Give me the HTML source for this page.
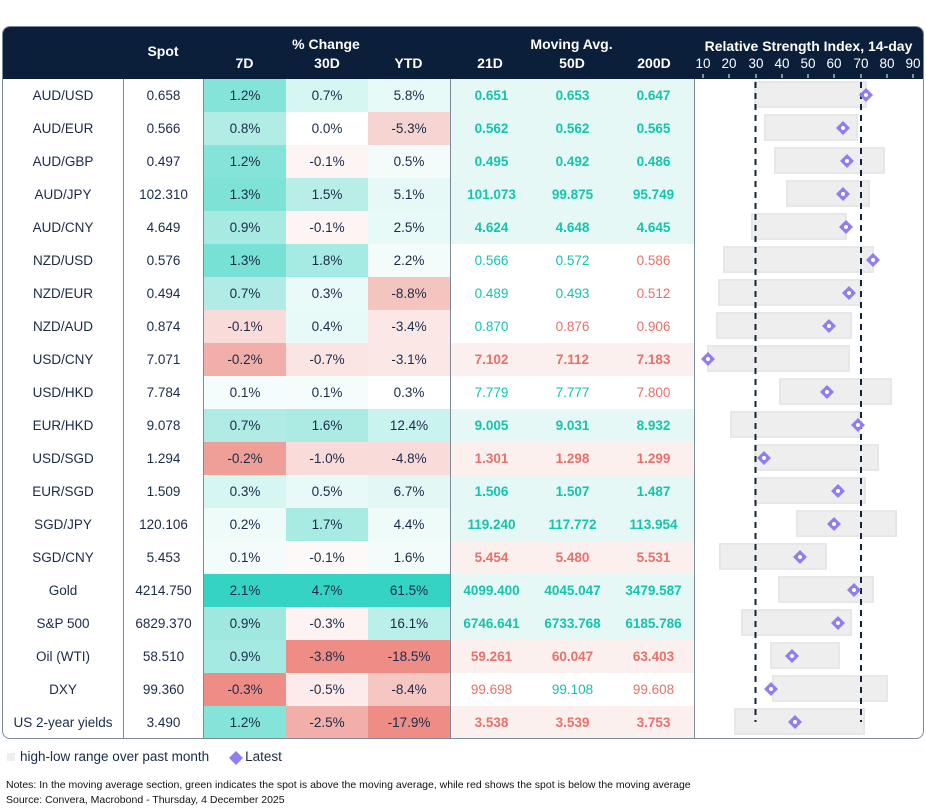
<!DOCTYPE html>
<html><head><meta charset="utf-8"><style>
body{margin:0;width:926px;height:811px;background:#fff;font-family:"Liberation Sans","DejaVu Sans",sans-serif;color:#1a2b48;position:relative;overflow:hidden}
#box{position:absolute;left:2px;top:26px;width:920px;height:711px;border:1px solid #7d8b99;border-radius:8px;overflow:hidden}
#hdr{position:absolute;left:0;top:0;width:920px;height:52px;background:#0b1f3a}
.h{position:absolute;color:#fff;font-weight:bold;font-size:14px;text-align:center}
table{position:absolute;left:0;top:52px;border-collapse:collapse;font-size:13.5px}
td{height:33px;padding:0;text-align:center;white-space:nowrap}
td.n{width:120px;border-right:1px solid #7d8b99}
td.s{width:79px;border-right:1px solid #7d8b99}
td.p{width:82px}
td.y{border-right:1px solid #7d8b99}
td.m{width:81px}
td.l{border-right:1px solid #7d8b99}
.G{background:#e5f8f5}.R{background:#fcf0ee}
.g{color:#14c4ac}.r{color:#e8706a}.b{font-weight:bold}
#leg{position:absolute;top:749px;left:8px;font-size:13.5px}
.note{position:absolute;left:6px;font-size:10.5px;color:#111}
</style></head><body>
<div id="box">
<div id="hdr">
<div class="h" style="left:120px;width:80px;top:16px">Spot</div>
<div class="h" style="left:200px;width:246px;top:9px">% Change</div>
<div class="h" style="left:200px;width:83px;top:28px">7D</div>
<div class="h" style="left:283px;width:82px;top:28px">30D</div>
<div class="h" style="left:365px;width:81px;top:28px">YTD</div>
<div class="h" style="left:446px;width:245px;top:9px">Moving Avg.</div>
<div class="h" style="left:446px;width:82px;top:28px">21D</div>
<div class="h" style="left:528px;width:82px;top:28px">50D</div>
<div class="h" style="left:610px;width:82px;top:28px">200D</div>
<div class="h" style="left:691px;width:229px;top:11px">Relative Strength Index, 14-day</div>
</div>
<table>
<tr><td class="n">AUD/USD</td><td class="s">0.658</td><td class="p" style="background:#85e4d9">1.2%</td><td class="p" style="background:#d6f6f2">0.7%</td><td class="p y" style="background:#e8faf7">5.8%</td><td class="m G g b">0.651</td><td class="m G g b">0.653</td><td class="m G g b l">0.647</td></tr>
<tr><td class="n">AUD/EUR</td><td class="s">0.566</td><td class="p" style="background:#b1ece5">0.8%</td><td class="p" style="background:#fff">0.0%</td><td class="p y" style="background:#f6d4d2">-5.3%</td><td class="m G g b">0.562</td><td class="m G g b">0.562</td><td class="m G g b l">0.565</td></tr>
<tr><td class="n">AUD/GBP</td><td class="s">0.497</td><td class="p" style="background:#85e4d9">1.2%</td><td class="p" style="background:#fdf5f4">-0.1%</td><td class="p y" style="background:#f4fcfb">0.5%</td><td class="m G g b">0.495</td><td class="m G g b">0.492</td><td class="m G g b l">0.486</td></tr>
<tr><td class="n">AUD/JPY</td><td class="s">102.310</td><td class="p" style="background:#7fe2d7">1.3%</td><td class="p" style="background:#b8eee7">1.5%</td><td class="p y" style="background:#e6f9f6">5.1%</td><td class="m G g b">101.073</td><td class="m G g b">99.875</td><td class="m G g b l">95.749</td></tr>
<tr><td class="n">AUD/CNY</td><td class="s">4.649</td><td class="p" style="background:#a6eae2">0.9%</td><td class="p" style="background:#fdf5f4">-0.1%</td><td class="p y" style="background:#e8faf7">2.5%</td><td class="m G g b">4.624</td><td class="m G g b">4.648</td><td class="m G g b l">4.645</td></tr>
<tr><td class="n">NZD/USD</td><td class="s">0.576</td><td class="p" style="background:#77e1d5">1.3%</td><td class="p" style="background:#a6ebe3">1.8%</td><td class="p y" style="background:#f3fcfb">2.2%</td><td class="m g">0.566</td><td class="m g">0.572</td><td class="m r l">0.586</td></tr>
<tr><td class="n">NZD/EUR</td><td class="s">0.494</td><td class="p" style="background:#b0ece5">0.7%</td><td class="p" style="background:#eafaf8">0.3%</td><td class="p y" style="background:#f4c4bf">-8.8%</td><td class="m g">0.489</td><td class="m g">0.493</td><td class="m r l">0.512</td></tr>
<tr><td class="n">NZD/AUD</td><td class="s">0.874</td><td class="p" style="background:#f9dcda">-0.1%</td><td class="p" style="background:#e8faf7">0.4%</td><td class="p y" style="background:#fbe7e6">-3.4%</td><td class="m g">0.870</td><td class="m r">0.876</td><td class="m r l">0.906</td></tr>
<tr><td class="n">USD/CNY</td><td class="s">7.071</td><td class="p" style="background:#f2aea8">-0.2%</td><td class="p" style="background:#fbe5e3">-0.7%</td><td class="p y" style="background:#fbe8e6">-3.1%</td><td class="m R r b">7.102</td><td class="m R r b">7.112</td><td class="m R r b l">7.183</td></tr>
<tr><td class="n">USD/HKD</td><td class="s">7.784</td><td class="p" style="background:#f5fdfc">0.1%</td><td class="p" style="background:#f5fdfc">0.1%</td><td class="p y" style="background:#fff">0.3%</td><td class="m g">7.779</td><td class="m g">7.777</td><td class="m r l">7.800</td></tr>
<tr><td class="n">EUR/HKD</td><td class="s">9.078</td><td class="p" style="background:#b0ece5">0.7%</td><td class="p" style="background:#acebe4">1.6%</td><td class="p y" style="background:#c9f3ee">12.4%</td><td class="m G g b">9.005</td><td class="m G g b">9.031</td><td class="m G g b l">8.932</td></tr>
<tr><td class="n">USD/SGD</td><td class="s">1.294</td><td class="p" style="background:#ee9f98">-0.2%</td><td class="p" style="background:#f9dcda">-1.0%</td><td class="p y" style="background:#f9dcda">-4.8%</td><td class="m R r b">1.301</td><td class="m R r b">1.298</td><td class="m R r b l">1.299</td></tr>
<tr><td class="n">EUR/SGD</td><td class="s">1.509</td><td class="p" style="background:#d6f6f2">0.3%</td><td class="p" style="background:#e8faf7">0.5%</td><td class="p y" style="background:#e3f8f5">6.7%</td><td class="m G g b">1.506</td><td class="m G g b">1.507</td><td class="m G g b l">1.487</td></tr>
<tr><td class="n">SGD/JPY</td><td class="s">120.106</td><td class="p" style="background:#eefbf9">0.2%</td><td class="p" style="background:#a8ebe3">1.7%</td><td class="p y" style="background:#eefbf9">4.4%</td><td class="m G g b">119.240</td><td class="m G g b">117.772</td><td class="m G g b l">113.954</td></tr>
<tr><td class="n">SGD/CNY</td><td class="s">5.453</td><td class="p" style="background:#f3fcfb">0.1%</td><td class="p" style="background:#fdf9f8">-0.1%</td><td class="p y" style="background:#f4fcfb">1.6%</td><td class="m R r b">5.454</td><td class="m R r b">5.480</td><td class="m R r b l">5.531</td></tr>
<tr><td class="n">Gold</td><td class="s">4214.750</td><td class="p" style="background:#35d3c3">2.1%</td><td class="p" style="background:#35d3c3">4.7%</td><td class="p y" style="background:#35d3c3">61.5%</td><td class="m G g b">4099.400</td><td class="m G g b">4045.047</td><td class="m G g b l">3479.587</td></tr>
<tr><td class="n">S&amp;P 500</td><td class="s">6829.370</td><td class="p" style="background:#9ee8df">0.9%</td><td class="p" style="background:#fdf3f2">-0.3%</td><td class="p y" style="background:#baf0e9">16.1%</td><td class="m G g b">6746.641</td><td class="m G g b">6733.768</td><td class="m G g b l">6185.786</td></tr>
<tr><td class="n">Oil (WTI)</td><td class="s">58.510</td><td class="p" style="background:#a4eae2">0.9%</td><td class="p" style="background:#ee8d86">-3.8%</td><td class="p y" style="background:#ee8d86">-18.5%</td><td class="m R r b">59.261</td><td class="m R r b">60.047</td><td class="m R r b l">63.403</td></tr>
<tr><td class="n">DXY</td><td class="s">99.360</td><td class="p" style="background:#ee8d86">-0.3%</td><td class="p" style="background:#fcebea">-0.5%</td><td class="p y" style="background:#f5c6c2">-8.4%</td><td class="m r">99.698</td><td class="m g">99.108</td><td class="m r l">99.608</td></tr>
<tr><td class="n">US 2-year yields</td><td class="s">3.490</td><td class="p" style="background:#85e4d9">1.2%</td><td class="p" style="background:#f2aea8">-2.5%</td><td class="p y" style="background:#ee8d86">-17.9%</td><td class="m R r b">3.538</td><td class="m R r b">3.539</td><td class="m R r b l">3.753</td></tr>
</table>
</div>
<svg width="926" height="811" style="position:absolute;left:0;top:0" font-family="Liberation Sans, DejaVu Sans, sans-serif">
<g fill="#fff" font-size="13.5" text-anchor="middle">
<text x="703" y="68">10</text><text x="729" y="68">20</text><text x="756" y="68">30</text><text x="782" y="68">40</text><text x="808" y="68">50</text><text x="834" y="68">60</text><text x="861" y="68">70</text><text x="887" y="68">80</text><text x="913" y="68">90</text>
</g>
<g stroke="#fff" stroke-width="1">
<line x1="703" y1="74" x2="703" y2="78"/><line x1="729" y1="74" x2="729" y2="78"/><line x1="756" y1="74" x2="756" y2="78"/><line x1="782" y1="74" x2="782" y2="78"/><line x1="808" y1="74" x2="808" y2="78"/><line x1="834" y1="74" x2="834" y2="78"/><line x1="861" y1="74" x2="861" y2="78"/><line x1="887" y1="74" x2="887" y2="78"/><line x1="913" y1="74" x2="913" y2="78"/>
</g>
<g fill="#eeeeee" stroke="#e7e7e7" stroke-width="2">
<rect x="755" y="82" width="111" height="25"/>
<rect x="765" y="115" width="92" height="25"/>
<rect x="775" y="148" width="109" height="25"/>
<rect x="787" y="181" width="82" height="25"/>
<rect x="752" y="214" width="94" height="25"/>
<rect x="724" y="247" width="149" height="25"/>
<rect x="719" y="280" width="141" height="25"/>
<rect x="717" y="313" width="134" height="25"/>
<rect x="708" y="346" width="141" height="25"/>
<rect x="780" y="379" width="111" height="25"/>
<rect x="731" y="412" width="128" height="25"/>
<rect x="755" y="445" width="123" height="25"/>
<rect x="755" y="478" width="110" height="25"/>
<rect x="797" y="511" width="99" height="25"/>
<rect x="720" y="544" width="106" height="25"/>
<rect x="779" y="577" width="94" height="25"/>
<rect x="742" y="610" width="109" height="25"/>
<rect x="771" y="643" width="68" height="25"/>
<rect x="773" y="676" width="114" height="25"/>
<rect x="735" y="709" width="129" height="25"/>
</g>
<g stroke="#13233a" stroke-width="2" stroke-dasharray="6,5">
<line x1="755.5" y1="82" x2="755.5" y2="722"/><line x1="861" y1="82" x2="861" y2="722"/>
</g>
<g fill="#8e7ef0">
<path d="M866 88l7 7-7 7-7-7z"/><path d="M843 121l7 7-7 7-7-7z"/><path d="M847 154l7 7-7 7-7-7z"/><path d="M843 187l7 7-7 7-7-7z"/><path d="M846 220l7 7-7 7-7-7z"/>
<path d="M873 253l7 7-7 7-7-7z"/><path d="M849 286l7 7-7 7-7-7z"/><path d="M829 319l7 7-7 7-7-7z"/><path d="M708 352l7 7-7 7-7-7z"/><path d="M827 385l7 7-7 7-7-7z"/>
<path d="M858 418l7 7-7 7-7-7z"/><path d="M764 451l7 7-7 7-7-7z"/><path d="M838 484l7 7-7 7-7-7z"/><path d="M834 517l7 7-7 7-7-7z"/><path d="M800 550l7 7-7 7-7-7z"/>
<path d="M854 583l7 7-7 7-7-7z"/><path d="M838 616l7 7-7 7-7-7z"/><path d="M792 649l7 7-7 7-7-7z"/><path d="M771 682l7 7-7 7-7-7z"/><path d="M795 715l7 7-7 7-7-7z"/>
</g>
<g fill="#fff">
<circle cx="866" cy="95" r="2"/><circle cx="843" cy="128" r="2"/><circle cx="847" cy="161" r="2"/><circle cx="843" cy="194" r="2"/><circle cx="846" cy="227" r="2"/>
<circle cx="873" cy="260" r="2"/><circle cx="849" cy="293" r="2"/><circle cx="829" cy="326" r="2"/><circle cx="708" cy="359" r="2"/><circle cx="827" cy="392" r="2"/>
<circle cx="858" cy="425" r="2"/><circle cx="764" cy="458" r="2"/><circle cx="838" cy="491" r="2"/><circle cx="834" cy="524" r="2"/><circle cx="800" cy="557" r="2"/>
<circle cx="854" cy="590" r="2"/><circle cx="838" cy="623" r="2"/><circle cx="792" cy="656" r="2"/><circle cx="771" cy="689" r="2"/><circle cx="795" cy="722" r="2"/>
</g>
<rect x="7" y="753" width="8" height="8" fill="#eeeeee"/>
<path d="M236 751l7 7-7 7-7-7z" fill="#8e7ef0"/>
</svg>
<div id="leg"><span style="margin-left:12px">high-low range over past month</span><span style="margin-left:36px">Latest</span></div>
<div class="note" style="top:779px">Notes: In the moving average section, green indicates the spot is above the moving average, while red shows the spot is below the moving average</div>
<div class="note" style="top:794px">Source: Convera, Macrobond - Thursday, 4 December 2025</div>
</body></html>
